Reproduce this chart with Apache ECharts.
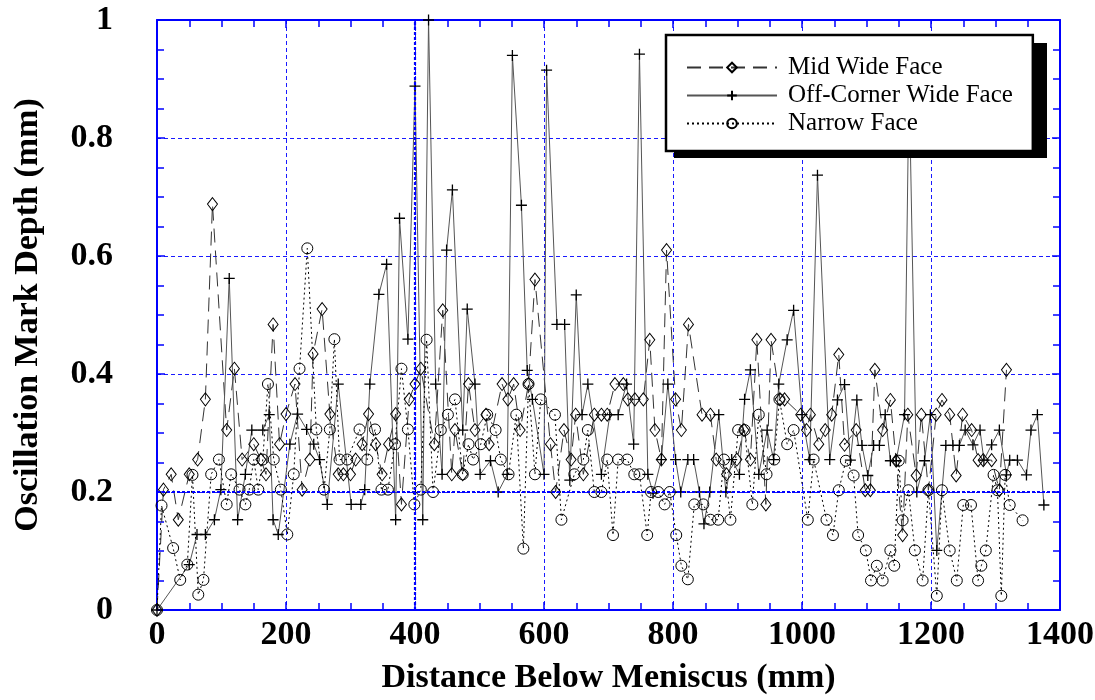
<!DOCTYPE html>
<html>
<head>
<meta charset="utf-8">
<script src="https://cdn.jsdelivr.net/npm/echarts@6/dist/echarts.min.js"></script>
<style>html,body{margin:0;padding:0;background:#fff;}#c{width:1095px;height:700px;}</style>
</head>
<body>
<div id="c"></div>
<script>
// ---- Data (x: distance below meniscus in mm, y: oscillation mark depth in mm)
const seriesNames = ['Mid Wide Face', 'Off-Corner Wide Face', 'Narrow Face'];
const xTicks = [0, 200, 400, 600, 800, 1000, 1200, 1400];
const yTicks = [0, 0.2, 0.4, 0.6, 0.8, 1];

const midWide = [[0,0],[10,0.204],[22,0.23],[33,0.153],[50,0.23],[63,0.255],[75,0.357],[86,0.688],[108,0.305],[120,0.409],[132,0.255],[150,0.281],[161,0.255],[169,0.23],[180,0.484],[190,0.281],[200,0.332],[214,0.383],[225,0.204],[237,0.255],[242,0.434],[256,0.51],[268,0.332],[281,0.23],[289,0.23],[300,0.23],[308,0.255],[318,0.281],[328,0.332],[339,0.281],[349,0.23],[359,0.281],[370,0.332],[379,0.179],[391,0.357],[400,0.383],[409,0.409],[430,0.281],[443,0.508],[457,0.23],[462,0.305],[474,0.23],[483,0.383],[493,0.305],[510,0.331],[515,0.281],[535,0.383],[544,0.357],[553,0.383],[563,0.305],[576,0.383],[586,0.56],[610,0.281],[618,0.2],[631,0.305],[642,0.255],[649,0.331],[661,0.23],[678,0.331],[689,0.331],[698,0.331],[710,0.383],[723,0.383],[730,0.357],[741,0.357],[754,0.357],[764,0.458],[772,0.305],[782,0.255],[790,0.61],[804,0.357],[813,0.305],[824,0.484],[845,0.331],[858,0.331],[867,0.255],[883,0.23],[899,0.255],[910,0.305],[920,0.255],[930,0.458],[944,0.179],[952,0.458],[966,0.357],[973,0.357],[998,0.331],[1007,0.305],[1013,0.331],[1026,0.281],[1036,0.305],[1046,0.331],[1057,0.433],[1066,0.28],[1084,0.305],[1098,0.203],[1106,0.203],[1113,0.407],[1125,0.305],[1137,0.356],[1146,0.253],[1156,0.127],[1164,0.331],[1177,0.228],[1185,0.331],[1196,0.203],[1208,0.331],[1217,0.356],[1229,0.331],[1239,0.228],[1249,0.331],[1263,0.305],[1273,0.254],[1281,0.254],[1294,0.254],[1306,0.203],[1317,0.407]];

const offCorner = [[0,0],[50,0.077],[62,0.128],[75,0.128],[89,0.153],[99,0.204],[112,0.562],[125,0.153],[137,0.23],[147,0.305],[164,0.305],[174,0.331],[180,0.153],[188,0.128],[206,0.281],[218,0.332],[232,0.306],[243,0.281],[252,0.255],[264,0.179],[281,0.383],[301,0.179],[316,0.179],[322,0.204],[330,0.383],[344,0.535],[356,0.586],[370,0.153],[376,0.664],[389,0.459],[400,0.888],[412,0.153],[421,1.0],[432,0.383],[442,0.23],[449,0.61],[458,0.712],[474,0.305],[481,0.51],[493,0.383],[501,0.23],[517,0.253],[529,0.2],[543,0.23],[551,0.94],[565,0.686],[574,0.406],[582,0.357],[600,0.23],[604,0.915],[620,0.484],[632,0.484],[640,0.22],[650,0.534],[659,0.331],[668,0.383],[689,0.23],[702,0.331],[715,0.331],[728,0.383],[739,0.281],[748,0.942],[761,0.23],[769,0.198],[782,0.255],[792,0.383],[804,0.255],[812,0.2],[823,0.255],[832,0.255],[841,0.2],[848,0.146],[857,0.2],[871,0.331],[882,0.2],[891,0.255],[903,0.23],[911,0.357],[920,0.407],[933,0.23],[946,0.305],[956,0.255],[964,0.383],[977,0.458],[987,0.508],[1000,0.331],[1012,0.255],[1024,0.737],[1043,0.255],[1055,0.356],[1066,0.382],[1075,0.254],[1085,0.356],[1093,0.279],[1102,0.228],[1111,0.279],[1120,0.279],[1129,0.331],[1137,0.253],[1146,0.253],[1159,0.331],[1166,0.9],[1178,0.2],[1190,0.253],[1199,0.331],[1209,0.101],[1223,0.279],[1234,0.279],[1244,0.279],[1253,0.305],[1265,0.28],[1276,0.305],[1282,0.254],[1294,0.28],[1306,0.305],[1317,0.229],[1322,0.254],[1334,0.254],[1348,0.229],[1355,0.305],[1365,0.331],[1375,0.178]];

const narrowFace = [[0,0],[7,0.177],[25,0.105],[36,0.051],[47,0.077],[55,0.229],[64,0.026],[72,0.051],[84,0.23],[96,0.255],[108,0.179],[115,0.23],[128,0.204],[137,0.179],[143,0.204],[150,0.255],[157,0.204],[164,0.255],[172,0.383],[181,0.255],[192,0.204],[202,0.128],[212,0.23],[221,0.409],[233,0.613],[247,0.306],[259,0.204],[268,0.306],[275,0.459],[283,0.255],[295,0.255],[314,0.306],[326,0.255],[338,0.306],[348,0.204],[358,0.204],[369,0.281],[379,0.409],[389,0.306],[399,0.179],[409,0.204],[418,0.458],[428,0.2],[440,0.305],[451,0.331],[462,0.357],[474,0.23],[483,0.281],[490,0.255],[502,0.281],[512,0.331],[525,0.305],[533,0.255],[545,0.23],[557,0.331],[568,0.104],[576,0.383],[586,0.23],[595,0.357],[617,0.331],[627,0.153],[647,0.23],[661,0.255],[668,0.305],[678,0.2],[689,0.2],[698,0.255],[707,0.127],[715,0.255],[729,0.255],[740,0.23],[748,0.23],[760,0.127],[766,0.2],[777,0.2],[787,0.179],[795,0.2],[805,0.127],[813,0.075],[823,0.052],[833,0.179],[847,0.179],[858,0.153],[870,0.153],[879,0.255],[889,0.153],[901,0.305],[911,0.305],[923,0.179],[933,0.331],[945,0.23],[957,0.255],[965,0.357],[977,0.281],[987,0.305],[1009,0.153],[1018,0.255],[1038,0.153],[1048,0.127],[1057,0.203],[1068,0.253],[1080,0.228],[1087,0.127],[1099,0.101],[1107,0.05],[1116,0.075],[1125,0.05],[1137,0.101],[1143,0.075],[1150,0.253],[1156,0.152],[1165,0.203],[1175,0.101],[1187,0.05],[1196,0.203],[1209,0.024],[1217,0.203],[1229,0.101],[1240,0.05],[1250,0.178],[1262,0.178],[1273,0.05],[1278,0.075],[1285,0.101],[1297,0.229],[1303,0.203],[1309,0.024],[1315,0.229],[1322,0.178],[1342,0.152]];

const highlightY = 0.2;
const highlightX = 400;

// ---- Chart
const FONT = "'Liberation Serif','Times New Roman',serif";
const BLUE = '#0000ff';
const GRIDBLUE = '#1a1aff';
const chart = echarts.init(document.getElementById('c'), null, {renderer: 'canvas'});

const axisCommon = {
  min: xTicks[0], max: xTicks[xTicks.length - 1], interval: xTicks[1] - xTicks[0]
};
const yCommon = {
  min: yTicks[0], max: yTicks[yTicks.length - 1], interval: yTicks[1] - yTicks[0]
};
const plain = v => String(v);
const tickStyle = {show: true, inside: true, length: 8, lineStyle: {color: BLUE, width: 1.5}};
const minorStyle = {show: true, splitNumber: 4, length: 7, lineStyle: {color: BLUE, width: 1.5}};

// legend box geometry (px)
const LEG = {left: 666, top: 35, w: 373, h: 115, shadow: 8};

const option = {
  backgroundColor: '#fff',
  animation: false,
  grid: {left: 157, right: 35, top: 20, bottom: 90, containLabel: false, outerBoundsMode: 'none'},
  graphic: [{
    type: 'rect', z: 9, silent: true,
    shape: {x: LEG.left + LEG.shadow, y: LEG.top + LEG.shadow, width: LEG.w, height: LEG.h},
    style: {fill: '#000'}
  }],
  legend: {
    orient: 'vertical', left: LEG.left, top: LEG.top,
    padding: [20, 20, 15, 20], itemGap: 3, itemWidth: 90, itemHeight: 12,
    backgroundColor: '#fff', borderColor: '#000', borderWidth: 2.5, borderRadius: 0,
    textStyle: {fontFamily: FONT, fontSize: 25, color: '#000', padding: [0, 0, 0, 6]},
    data: seriesNames, z: 10
  },
  xAxis: [
    Object.assign({
      type: 'value', position: 'bottom',
      name: 'Distance Below Meniscus (mm)', nameLocation: 'middle', nameGap: 51,
      nameTextStyle: {fontFamily: FONT, fontSize: 34, fontWeight: 'bold', color: '#000'},
      axisLine: {show: true, onZero: false, lineStyle: {color: BLUE, width: 2}},
      axisTick: tickStyle, minorTick: minorStyle,
      axisLabel: {fontFamily: FONT, fontSize: 34, fontWeight: 'bold', color: '#000', margin: 8, formatter: plain},
      splitLine: {show: true, lineStyle: {color: GRIDBLUE, width: 1, type: [4, 3]}}
    }, axisCommon),
    Object.assign({
      type: 'value', position: 'top',
      axisLine: {show: true, onZero: false, lineStyle: {color: BLUE, width: 2}},
      axisTick: tickStyle, minorTick: minorStyle,
      axisLabel: {show: false}, splitLine: {show: false}
    }, axisCommon)
  ],
  yAxis: [
    Object.assign({
      type: 'value', position: 'left',
      name: 'Oscillation Mark Depth (mm)', nameLocation: 'middle', nameGap: 112, nameRotate: 90,
      nameTextStyle: {fontFamily: FONT, fontSize: 34, fontWeight: 'bold', color: '#000'},
      axisLine: {show: true, onZero: false, lineStyle: {color: BLUE, width: 2}},
      axisTick: tickStyle, minorTick: minorStyle,
      axisLabel: {fontFamily: FONT, fontSize: 34, fontWeight: 'bold', color: '#000', margin: 44, formatter: plain},
      splitLine: {show: true, lineStyle: {color: GRIDBLUE, width: 1, type: [4, 3]}}
    }, yCommon),
    Object.assign({
      type: 'value', position: 'right',
      axisLine: {show: true, onZero: false, lineStyle: {color: BLUE, width: 2}},
      axisTick: tickStyle, minorTick: minorStyle,
      axisLabel: {show: false}, splitLine: {show: false}
    }, yCommon)
  ],
  series: [
    {
      name: seriesNames[0], type: 'line', data: midWide, z: 3,
      symbol: 'diamond', symbolSize: [10, 13], showAllSymbol: true,
      itemStyle: {color: 'rgba(255,255,255,0)', borderColor: '#000', borderWidth: 1},
      lineStyle: {color: '#333', width: 1, type: [14, 8]}
    },
    {
      name: seriesNames[1], type: 'line', data: offCorner, z: 3,
      symbol: 'path://M0,5L10,5M5,0L5,10', symbolSize: 11, showAllSymbol: true,
      itemStyle: {color: 'none', borderColor: '#000', borderWidth: 1.3},
      lineStyle: {color: '#555', width: 1, type: 'solid'}
    },
    {
      name: seriesNames[2], type: 'line', data: narrowFace, z: 3,
      symbol: 'circle', symbolSize: 11, showAllSymbol: true,
      itemStyle: {color: 'rgba(255,255,255,0)', borderColor: '#000', borderWidth: 1},
      lineStyle: {color: '#000', width: 1, type: [2, 3]},
      markLine: {
        silent: true, symbol: 'none', label: {show: false},
        lineStyle: {color: BLUE, width: 2.2, type: [3, 2]},
        data: [{yAxis: highlightY}, {xAxis: highlightX}]
      }
    }
  ]
};
chart.setOption(option);
</script>
</body>
</html>
